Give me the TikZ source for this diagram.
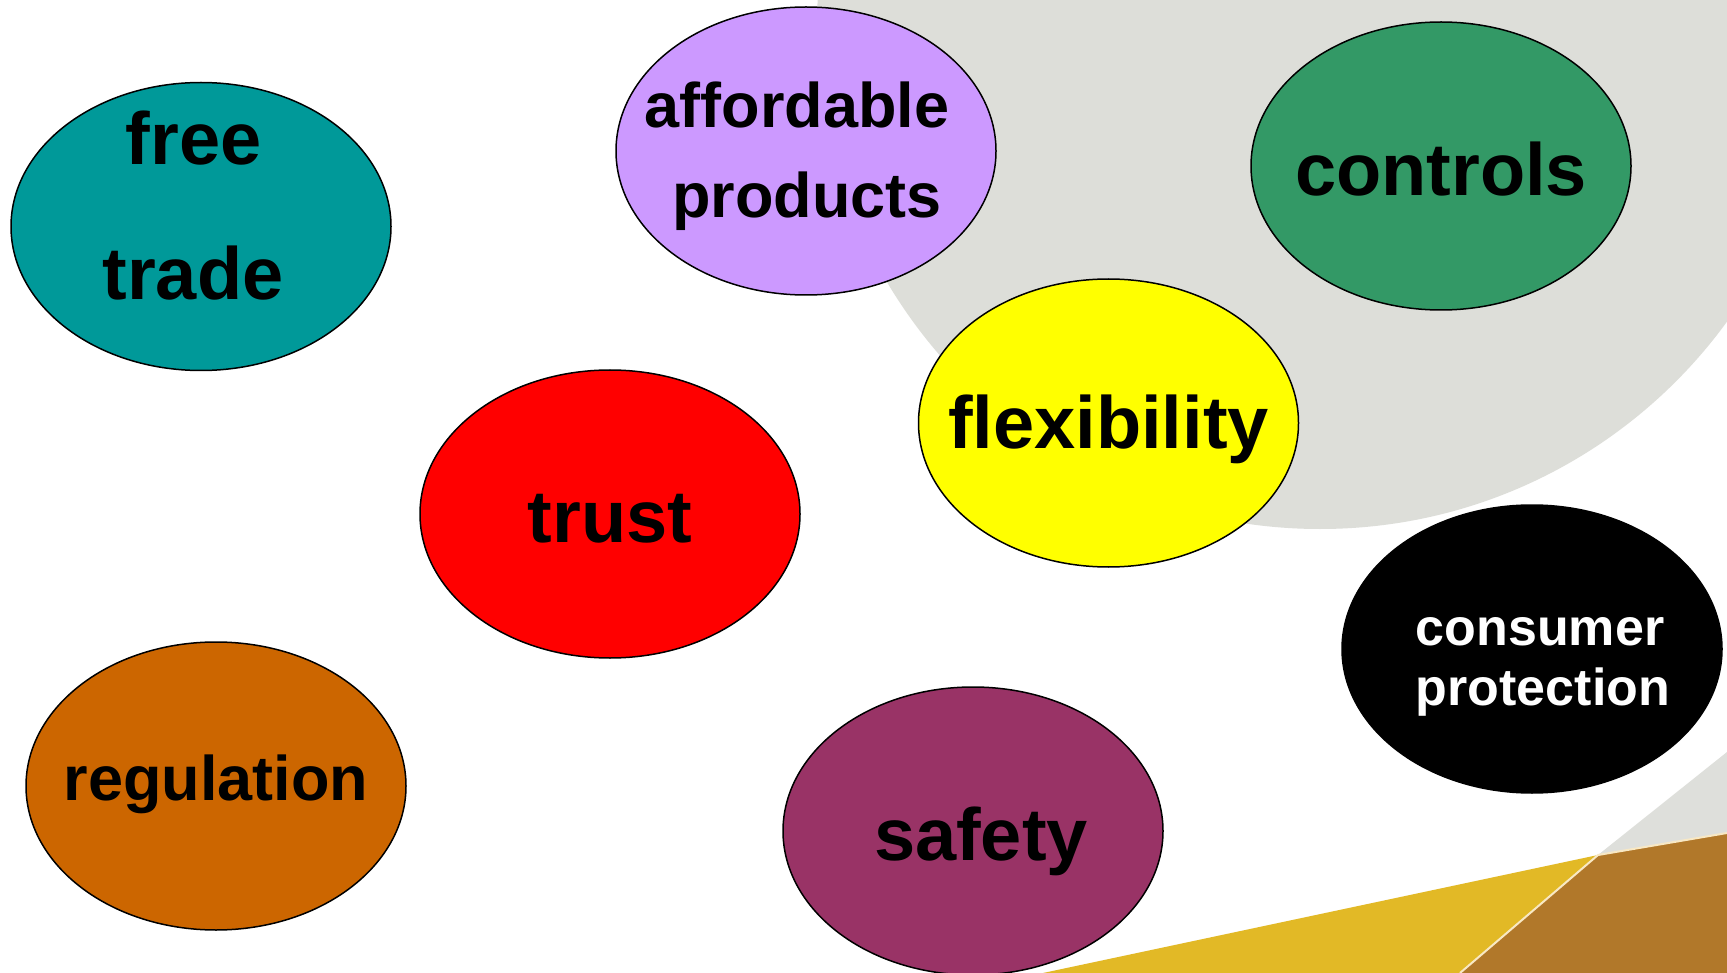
\documentclass[tikz,border=0pt]{standalone}
\usepackage{fontspec}
\setmainfont{Liberation Sans}
\usetikzlibrary{shapes.geometric}
\definecolor{bggrey}{RGB}{221,222,217}
\definecolor{trigrey}{RGB}{222,223,219}
\definecolor{bandyellow}{RGB}{226,185,38}
\definecolor{bandbrown}{RGB}{177,120,42}
\definecolor{cream}{RGB}{248,232,196}
\definecolor{cteal}{RGB}{0,153,153}
\definecolor{cpurple}{RGB}{204,153,255}
\definecolor{cgreen}{RGB}{51,153,102}
\definecolor{cyellow}{RGB}{255,255,0}
\definecolor{cred}{RGB}{255,0,0}
\definecolor{corange}{RGB}{204,102,0}
\definecolor{cplum}{RGB}{153,51,102}
\begin{document}
\begin{tikzpicture}[x=1pt,y=-1pt,
  ell/.style={ellipse, draw=black, line width=1.5pt, minimum width=380pt, minimum height=288pt, inner sep=0pt},
  lblbig/.style={anchor=base, inner sep=0pt, font=\fontsize{74}{74}\selectfont\bfseries},
  lblmid/.style={anchor=base, inner sep=0pt, font=\fontsize{63}{63}\selectfont\bfseries},
  lblsmall/.style={anchor=base, inner sep=0pt, text=white, font=\fontsize{52}{52}\selectfont\bfseries}]
\clip (0,0) rectangle (1727,973);
\fill[white] (0,0) rectangle (1727,973);
% background decoration
\fill[bggrey] (1320,26) circle[radius=503pt];
\fill[trigrey] (1598,855) -- (1727,752) -- (1727,833) -- cycle;
\fill[bandyellow] (1043,973) -- (1598,855) -- (1460,973) -- cycle;
\fill[bandbrown] (1460,973) -- (1598,855) -- (1727,833) -- (1727,973) -- cycle;
\draw[cream, line width=2pt] (1460,973) -- (1598,855) -- (1727,833);
% ellipses
\node[ell, fill=cteal] (eftrade) at (201,226.5) {};
\node[ell, fill=cpurple] (eafford) at (806,151) {};
\node[ell, fill=cgreen] (econtrols) at (1441,166) {};
\node[ell, fill=cyellow] (eflex) at (1108.5,423) {};
\node[ell, fill=cred] (etrust) at (610,514) {};
\node[ell, fill=black] (econsumer) at (1532,649) {};
\node[ell, fill=corange] (eregul) at (216,786) {};
\node[ell, fill=cplum] (esafety) at (973,831) {};
% labels
\node[lblbig] (tfree) at (193.5,165) {free};
\node[lblbig] (ttrade) at (193,300) {trade};
\node[lblmid] (taffordable) at (797,128) {affordable};
\node[lblmid] (tproducts) at (807,218) {products};
\node[lblbig] (tcontrols) at (1441,196) {controls};
\node[lblbig] (tflex) at (1108.5,449) {flexibility};
\node[lblbig] (ttrust) at (610,542) {trust};
\node[lblsmall] (tconsumer) at (1540,645) {consumer};
\node[lblsmall] (tprotection) at (1543,705) {protection};
\node[lblmid] (tregul) at (216,800) {regulation};
\node[lblbig] (tsafety) at (981,860) {safety};
\end{tikzpicture}
\end{document}
